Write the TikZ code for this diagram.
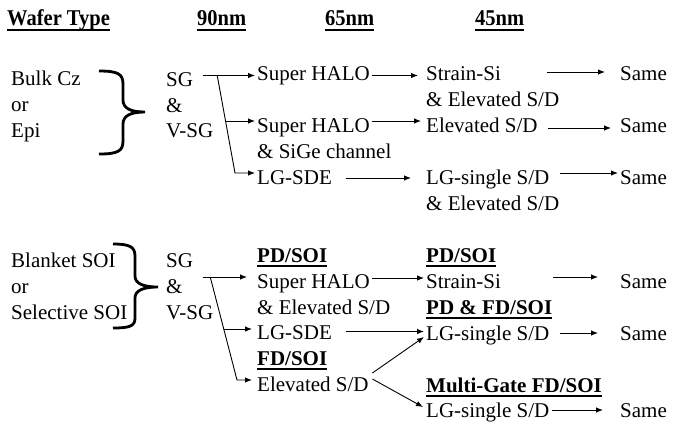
\documentclass[tikz,border=0pt]{standalone}
\usepackage{fontspec}
\setmainfont{Liberation Serif}
\usetikzlibrary{arrows.meta}
\tikzset{
  txt/.style={font=\fontsize{21}{26}\selectfont, inner sep=0pt, anchor=base west},
  bld/.style={font=\bfseries\fontsize{21}{26}\selectfont, inner sep=0pt, anchor=base west},
  hdr/.style={font=\bfseries\fontsize{20.5}{24}\selectfont, inner sep=0pt, anchor=base west},
  arr/.style={-{Latex[length=7pt,width=5.5pt]}, line width=0.9pt},
  brc/.style={line width=2.8pt},
  ulb/.style={line width=1.6pt},
  ulh/.style={line width=2.6pt}
}
\newcommand{\hdrtext}[1]{\scalebox{1}[1.1]{#1}}
\begin{document}
\begin{tikzpicture}[x=1pt,y=-1pt]
\useasboundingbox (0,0) rectangle (682,424);
% headers
\node[hdr] (h1) at (7,25) {\hdrtext{Wafer Type}};
\node[hdr] (h2) at (197,25) {\hdrtext{90nm}};
\node[hdr] (h3) at (325,25) {\hdrtext{65nm}};
\node[hdr] (h4) at (475,25) {\hdrtext{45nm}};
\foreach \n in {h1,h2,h3,h4}{\draw[ulh] ([yshift=-5pt]\n.base west) -- ([yshift=-5pt]\n.base east);}
% top section
\node[txt] (a1) at (11,85) {Bulk Cz};
\node[txt] (a2) at (11,111) {or};
\node[txt] (a3) at (11,137) {Epi};
\draw[brc] (99,71) .. controls (118,71) and (123,74) .. (123,84) -- (123,100)
  .. controls (123,108) and (130,112) .. (145,112)
  .. controls (130,112) and (123,116) .. (123,124) -- (123,141)
  .. controls (123,151) and (118,154) .. (99,154);
\node[txt] (b1) at (166,86) {SG};
\node[txt] (b2) at (166,112) {\&};
\node[txt] (b3) at (166,137) {V-SG};
\node[txt] (c1) at (257,80) {Super HALO};
\node[txt] (c2) at (257,132) {Super HALO};
\node[txt] (c2b) at (257,158) {\& SiGe channel};
\node[txt] (c3) at (257,184) {LG-SDE};
\node[txt] (d1) at (426,80) {Strain-Si};
\node[txt] (d1b) at (426,106) {\& Elevated S/D};
\node[txt] (d2) at (426,132) {Elevated S/D};
\node[txt] (d3) at (426,184) {LG-single S/D};
\node[txt] (d3b) at (426,210) {\& Elevated S/D};
\node[txt] (e1) at (620,80) {Same};
\node[txt] (e2) at (620,132) {Same};
\node[txt] (e3) at (620,184) {Same};
% top arrows
\draw[arr] ([xshift=10pt,yshift=10.5pt]b1.base east) -- ([xshift=-2pt,yshift=4.5pt]c1.base west);
\draw[arr] ([xshift=24pt,yshift=10.5pt]b1.base east) -- ([xshift=-22pt,yshift=11pt]c3.base west) -- ([xshift=-2pt,yshift=11pt]c3.base west);
\draw[arr] ([xshift=-32pt,yshift=11pt]c2.base west) -- ([xshift=-2pt,yshift=11pt]c2.base west);
\draw[arr] ([xshift=2pt,yshift=4.5pt]c1.base east) -- ([xshift=-8pt,yshift=4.5pt]d1.base west);
\draw[arr] ([xshift=2pt,yshift=11pt]c2.base east) -- ([xshift=-5pt,yshift=11pt]d2.base west);
\draw[arr] ([xshift=14pt,yshift=6pt]c3.base east) -- ([xshift=-15pt,yshift=6pt]d3.base west);
\draw[arr] ([xshift=46pt,yshift=8pt]d1.base east) -- ([xshift=-15pt,yshift=8pt]e1.base west);
\draw[arr] ([xshift=10pt,yshift=4pt]d2.base east) -- ([xshift=-9pt,yshift=4pt]e2.base west);
\draw[arr] ([xshift=11pt,yshift=11pt]d3.base east) -- ([xshift=-2pt,yshift=11pt]e3.base west);
% bottom section
\node[txt] (f1) at (11,267) {Blanket SOI};
\node[txt] (f2) at (11,293) {or};
\node[txt] (f3) at (11,319) {Selective SOI};
\draw[brc] (113,244) .. controls (130,244) and (135,247) .. (135,256) -- (135,276)
  .. controls (135,283) and (142,287) .. (158,287)
  .. controls (142,287) and (135,291) .. (135,298) -- (135,318)
  .. controls (135,326) and (130,328) .. (113,328);
\node[txt] (g1) at (166,267) {SG};
\node[txt] (g2) at (166,293) {\&};
\node[txt] (g3) at (166,319) {V-SG};
\node[bld] (p0) at (257,262) {PD/SOI};
\node[txt] (p1) at (257,288) {Super HALO};
\node[txt] (p1b) at (257,314) {\& Elevated S/D};
\node[txt] (p2) at (257,339) {LG-SDE};
\node[bld] (p3h) at (257,365) {FD/SOI};
\node[txt] (p3) at (257,391) {Elevated S/D};
\node[bld] (q0) at (426,262) {PD/SOI};
\node[txt] (q1) at (426,288) {Strain-Si};
\node[bld] (q2h) at (426,314) {PD \& FD/SOI};
\node[txt] (q2) at (426,340) {LG-single S/D};
\node[bld] (q3h) at (426,392) {Multi-Gate FD/SOI};
\node[txt] (q3) at (426,417) {LG-single S/D};
\node[txt] (r1) at (620,288) {Same};
\node[txt] (r2) at (620,340) {Same};
\node[txt] (r3) at (620,417) {Same};
\foreach \n in {p0,p3h,q0,q2h,q3h}{\draw[ulb] ([yshift=-4pt]\n.base west) -- ([yshift=-4pt]\n.base east);}
% bottom arrows
\draw[arr] ([xshift=10pt,yshift=-10pt]g1.base east) -- ([xshift=-10pt,yshift=11pt]p1.base west);
\draw[arr] ([xshift=17pt,yshift=-10pt]g1.base east) -- ([xshift=-20pt,yshift=11pt]p3.base west) -- ([xshift=-5pt,yshift=11pt]p3.base west);
\draw[arr] ([xshift=-33.4pt,yshift=10pt]p2.base west) -- ([xshift=-5pt,yshift=10pt]p2.base west);
\draw[arr] ([xshift=2.4pt,yshift=10pt]p1.base east) -- ([xshift=-2pt,yshift=10pt]q1.base west);
\draw[arr] ([xshift=52.3pt,yshift=11pt]q1.base east) -- ([xshift=-22pt,yshift=11pt]r1.base west);
\draw[arr] ([xshift=14.3pt,yshift=7.5pt]p2.base east) -- ([xshift=-2pt,yshift=8.5pt]q2.base west);
\draw[arr] ([xshift=11pt,yshift=7pt]q2.base east) -- ([xshift=-22pt,yshift=7pt]r2.base west);
\draw[arr] ([xshift=3.6pt,yshift=18pt]p3.base east) -- ([xshift=-2pt,yshift=3pt]q2.base west);
\draw[arr] ([xshift=3.6pt,yshift=12pt]p3.base east) -- ([xshift=-3pt,yshift=10pt]q3.base west);
\draw[arr] ([xshift=3pt,yshift=7pt]q3.base east) -- ([xshift=-17pt,yshift=7pt]r3.base west);
\end{tikzpicture}
\end{document}
